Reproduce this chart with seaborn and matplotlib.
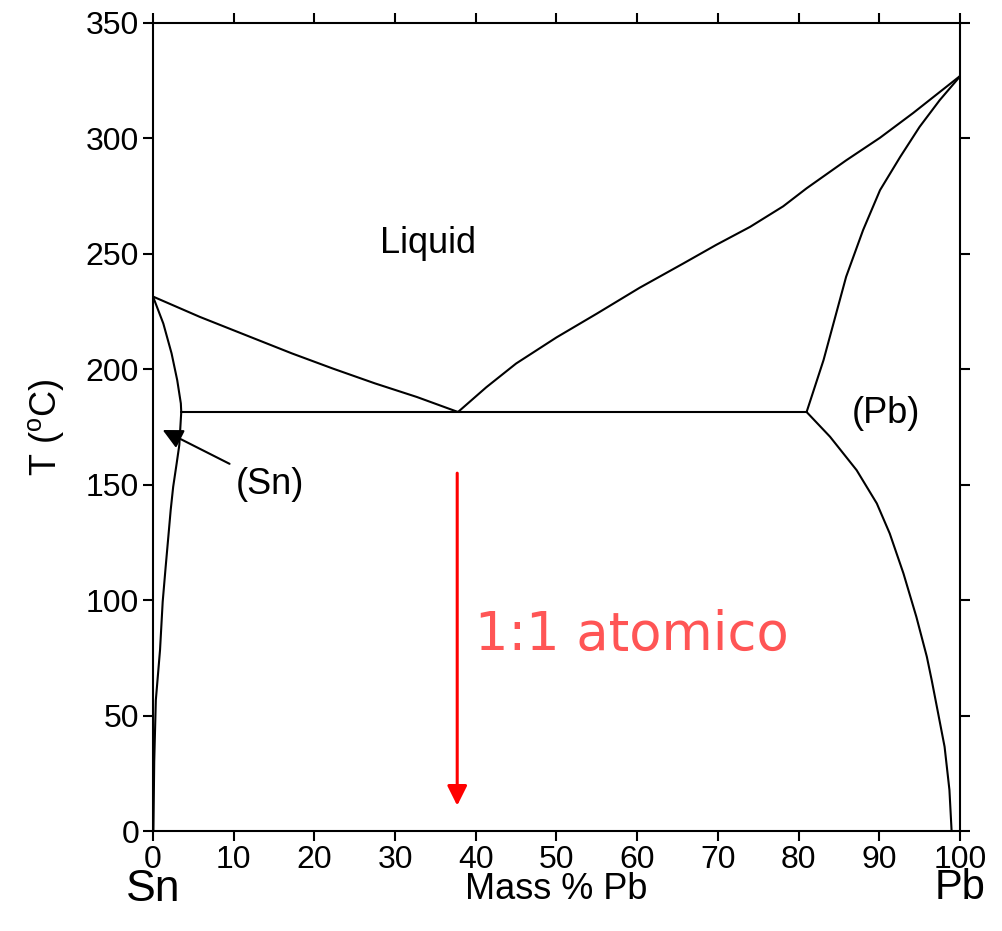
"""
Sn-Pb phase diagram (mass % Pb vs temperature) redrawn with seaborn.
"""

import matplotlib
matplotlib.use('Agg')
import matplotlib.pyplot as plt
import matplotlib.transforms as mtransforms
import seaborn as sns

# liquidus, Sn side (mass % Pb, T in C)
sn_liq_x = [0.0, 5.8, 12.0, 17.2, 22.3, 27.5, 32.7, 37.8]
sn_liq_t = [231.5, 222.7, 214.1, 206.9, 200.3, 193.9, 188.0, 181.5]

# liquidus, Pb side
pb_liq_x = [37.8, 41.3, 45.0, 50.0, 55.0, 60.3, 65.7, 69.8, 74.0, 78.1,
            81.0, 85.9, 90.1, 94.2, 100.0]
pb_liq_t = [181.5, 192.2, 202.5, 213.8, 224.1, 235.3, 245.8, 253.9, 261.7,
            270.6, 278.4, 290.5, 300.3, 311.0, 327.0]

# solidus of (Sn)
sn_sol_x = [0.0, 1.28, 2.3, 3.0, 3.45, 3.5]
sn_sol_t = [231.5, 219.8, 206.9, 195.3, 185.2, 181.5]

# solvus of (Sn)
sn_solv_x = [3.5, 3.26, 2.93, 2.5, 2.19, 1.9, 1.57, 1.2, 0.87, 0.35, 0.15,
             0.05]
sn_solv_t = [181.5, 167.2, 159.2, 149.1, 139.0, 127.5, 114.5, 99.3, 78.4,
             56.7, 30.0, 0.0]

# solidus of (Pb)
pb_sol_x = [100.0, 99.8, 97.5, 95.0, 92.6, 90.1, 88.0, 85.9, 83.1, 81.0]
pb_sol_t = [327.0, 326.0, 316.6, 305.0, 292.0, 277.6, 260.3, 240.1, 204.0,
            181.5]

# solvus of (Pb)
pb_solv_x = [81.0, 83.9, 87.2, 89.7, 91.3, 93.0, 94.6, 95.9, 96.5, 97.3,
             98.1, 98.7, 98.97]
pb_solv_t = [181.5, 170.8, 156.3, 141.9, 128.9, 111.6, 92.8, 75.5, 65.4,
             51.0, 36.5, 17.8, 0.0]

# eutectic isotherm
eut_x = [3.5, 81.0]
eut_t = [181.5, 181.5]

x_ticks = list(range(0, 101, 10))
y_ticks = list(range(0, 351, 50))

sns.set_style('ticks')
plt.rcParams['font.family'] = ['Liberation Sans', 'DejaVu Sans']
plt.rcParams['text.color'] = 'black'
plt.rcParams['axes.labelcolor'] = 'black'

fig = plt.figure(figsize=(10.02, 9.31), dpi=100)
ax = fig.add_axes([0.1527, 0.1074, 0.958 - 0.1527, 0.9753 - 0.1074])

curves = [(sn_liq_x, sn_liq_t), (pb_liq_x, pb_liq_t), (sn_sol_x, sn_sol_t),
          (sn_solv_x, sn_solv_t), (pb_sol_x, pb_sol_t),
          (pb_solv_x, pb_solv_t), (eut_x, eut_t)]
for cx, ct in curves:
    sns.lineplot(x=cx, y=ct, sort=False, estimator=None, color='black',
                 linewidth=1.5, ax=ax)

ax.set_xlim(0, 100)
ax.set_ylim(0, 350)
ax.set_xticks(x_ticks)
ax.set_yticks(y_ticks)
ax.tick_params(direction='out', length=7, width=1.5, labelsize=23,
               top=True, right=True, pad=3, colors='black')
for sp in ax.spines.values():
    sp.set_visible(True)
    sp.set_linewidth(1.5)
    sp.set_color('black')

ax.set_xlabel('Mass % Pb', fontsize=26, labelpad=-2)
ax.set_ylabel('T ($^{\\mathregular{o}}$C)', fontsize=26, labelpad=14)

# region labels
ax.text(34.1, 254.7, 'Liquid', fontsize=26, ha='center', va='center')
ax.text(90.8, 181, '(Pb)', fontsize=26, ha='center', va='center')
ax.annotate('(Sn)', xy=(1.2, 173.7), xytext=(10.2, 150.3),
            fontsize=26, ha='left', va='center',
            arrowprops=dict(arrowstyle='-|>', color='black', lw=1.5,
                            mutation_scale=30, shrinkA=2, shrinkB=0))

# end members
blend = mtransforms.blended_transform_factory(ax.transData, ax.transAxes)
ax.text(0, -0.072, 'Sn', transform=blend, fontsize=32,
        ha='center', va='center')
ax.text(100, -0.070, 'Pb', transform=blend, fontsize=30,
        ha='center', va='center')

# 1:1 atomic composition marker
ax.annotate('', xy=(37.7, 11), xytext=(37.7, 155),
            arrowprops=dict(arrowstyle='-|>', color='red', lw=2.2,
                            mutation_scale=30, shrinkA=0, shrinkB=0))
ax.text(39.9, 84.9, '1:1 atomico', fontsize=38, color='#ff5555',
        family='DejaVu Sans', ha='left', va='center')

fig.savefig('out.png', dpi=100)
